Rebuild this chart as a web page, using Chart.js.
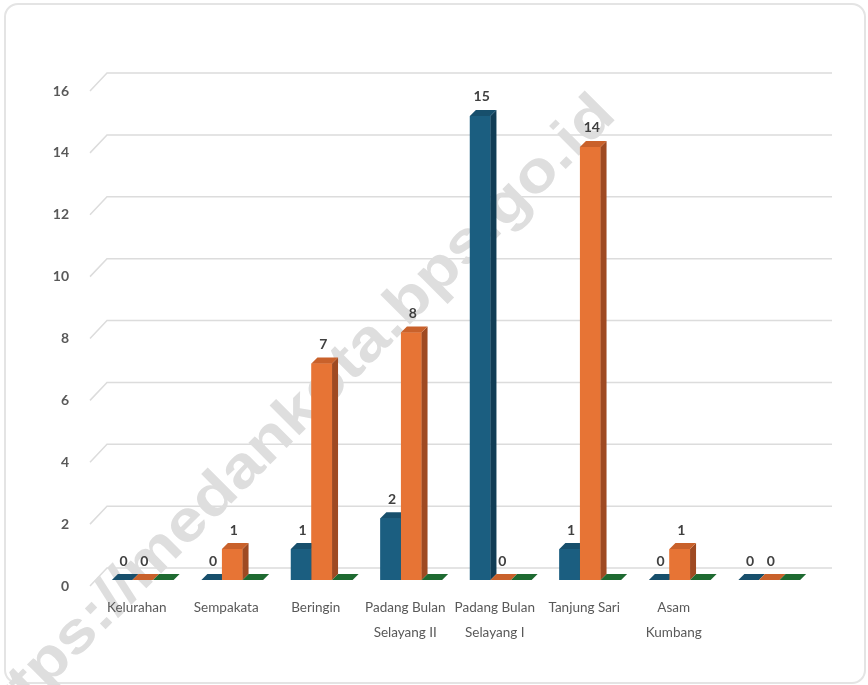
<!DOCTYPE html>
<html>
<head>
<meta charset="utf-8">
<script src="https://cdn.jsdelivr.net/npm/chart.js@4.4.1/dist/chart.umd.min.js"></script>
<style>
  html, body { margin: 0; padding: 0; background: #fff; }
  #wrap { position: relative; width: 868px; height: 685px; overflow: hidden; }
  #frame { position: absolute; left: 4px; top: 3px; width: 858px; height: 677px; border: 2px solid #e4e4e4; border-radius: 14px; }
  canvas { position: absolute; left: 0; top: 0; }
</style>
</head>
<body>
<div id="wrap">
  <div id="frame"></div>
  <canvas id="chart" width="868" height="685"></canvas>
</div>
<script>
    // data
    const kelurahan = ['Kelurahan', 'Sempakata', 'Beringin', ['Padang Bulan', 'Selayang II'], ['Padang Bulan', 'Selayang I'], 'Tanjung Sari', ['Asam', 'Kumbang'], ''];
    const nilaiBiru = [0, 0, 1, 2, 15, 1, 0, 0];
    const nilaiOranye = [0, 1, 7, 8, 0, 14, 1, 0];
    const nilaiHijau = [0, 0, 0, 0, 0, 0, 0, 0];
    const yTicks = [0, 2, 4, 6, 8, 10, 12, 14, 16];
    const watermark = 'https://medankota.bps.go.id';

    const DX = 6, DY = 6;
    const faces = [
        { front: '#1b5e80', top: '#174f6c', side: '#113d55', label: true },
        { front: '#e77435', top: '#c9612b', side: '#9f4a22', label: true },
        { front: '#1f6e34', top: '#1e6a31', side: '#154d24', label: false }
    ];
    const labelFont = "Lato, 'DejaVu Sans Condensed', sans-serif";

    // floor gridlines + watermark, under axes and bars
    const backdrop = {
        id: 'backdrop',
        beforeDraw(chart) {
            const ctx = chart.ctx;
            const area = chart.chartArea;
            const ys = chart.scales.y;
            ctx.save();
            ctx.strokeStyle = '#dcdcdc';
            ctx.lineWidth = 1.5;
            yTicks.forEach(v => {
                const yf = ys.getPixelForValue(v);
                ctx.beginPath();
                ctx.moveTo(area.left - 8, yf + 6);
                ctx.lineTo(area.left + 9, yf - 12);
                ctx.lineTo(area.right + 18, yf - 12);
                ctx.stroke();
            });

            ctx.translate(290, 422);
            ctx.rotate(-45 * Math.PI / 180);
            ctx.font = "bold 58px 'Liberation Sans', Arial, sans-serif";
            const w = ctx.measureText(watermark).width;
            ctx.scale(895 / w, 1);
            ctx.fillStyle = '#dedede';
            ctx.textAlign = 'center';
            ctx.textBaseline = 'middle';
            ctx.fillText(watermark, 0, 0);
            ctx.restore();
        }
    };

    // 3D faces + value labels
    const bars3d = {
        id: 'bars3d',
        afterDatasetsDraw(chart) {
            const ctx = chart.ctx;
            const n = chart.data.labels.length;
            ctx.save();
            for (let i = 0; i < n; i++) {
                for (let d = 0; d < chart.data.datasets.length; d++) {
                    const c = faces[d];
                    const bar = chart.getDatasetMeta(d).data[i];
                    const { x, y, base, width } = bar.getProps(['x', 'y', 'base', 'width'], true);
                    const l = x - width / 2, r = x + width / 2;

                    ctx.fillStyle = c.front;
                    ctx.fillRect(l, y, width, base - y);

                    ctx.fillStyle = c.side;
                    ctx.beginPath();
                    ctx.moveTo(r, y);
                    ctx.lineTo(r + DX, y - DY);
                    ctx.lineTo(r + DX, base - DY);
                    ctx.lineTo(r, base);
                    ctx.closePath();
                    ctx.fill();

                    ctx.fillStyle = c.top;
                    ctx.beginPath();
                    ctx.moveTo(l, y);
                    ctx.lineTo(l + DX, y - DY);
                    ctx.lineTo(r + DX, y - DY);
                    ctx.lineTo(r, y);
                    ctx.closePath();
                    ctx.fill();
                }
            }
            ctx.font = 'bold 14px ' + labelFont;
            ctx.fillStyle = '#404040';
            ctx.textAlign = 'center';
            ctx.textBaseline = 'middle';
            chart.data.datasets.forEach((ds, d) => {
                if (!faces[d].label) return;
                chart.getDatasetMeta(d).data.forEach((bar, i) => {
                    const { x, y } = bar.getProps(['x', 'y'], true);
                    ctx.fillText(String(ds.data[i]), x + 1.5, y - 19);
                });
            });
            ctx.restore();
        }
    };

    const ctx = document.getElementById('chart').getContext('2d');
    const chart = new Chart(ctx, {
        type: 'bar',
        data: {
            labels: kelurahan,
            datasets: [
                { data: nilaiBiru, backgroundColor: faces[0].front },
                { data: nilaiOranye, backgroundColor: faces[1].front },
                { data: nilaiHijau, backgroundColor: faces[2].front }
            ]
        },
        options: {
            responsive: false,
            animation: false,
            layout: { padding: { top: 85, right: 54, left: 0, bottom: 0 } },
            datasets: { bar: { categoryPercentage: 0.69, barPercentage: 1 } },
            plugins: {
                legend: { display: false },
                tooltip: { enabled: false }
            },
            scales: {
                x: {
                    grid: { display: false },
                    border: { display: false },
                    ticks: {
                        autoSkip: false,
                        maxRotation: 0,
                        minRotation: 0,
                        padding: 7,
                        labelOffset: -6,
                        color: '#595959',
                        font: { family: labelFont, size: 13.5, lineHeight: 1.85 }
                    },
                    afterFit(scale) { scale.height = 105; }
                },
                y: {
                    min: 0,
                    max: 16,
                    grid: { display: false },
                    border: { display: false },
                    ticks: {
                        stepSize: 2,
                        padding: 21,
                        labelOffset: 6,
                        color: '#595959',
                        font: { family: labelFont, size: 14, weight: 'bold' }
                    },
                    afterFit(scale) { scale.width = 98; }
                }
            }
        },
        plugins: [backdrop, bars3d]
    });
</script>
</body>
</html>
